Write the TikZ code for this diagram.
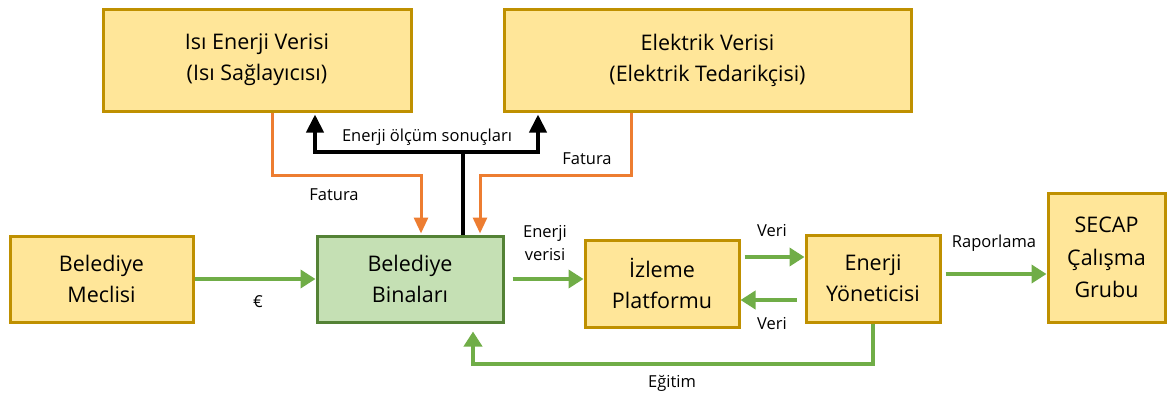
\documentclass[tikz,border=0pt]{standalone}
\usepackage{fontspec}
\setmainfont{Open Sans}
\usetikzlibrary{arrows.meta}
\definecolor{boxfill}{HTML}{FFE699}
\definecolor{boxline}{HTML}{BF9000}
\definecolor{binafill}{HTML}{C5E0B4}
\definecolor{binaline}{HTML}{548235}
\definecolor{grn}{HTML}{70AD47}
\definecolor{org}{HTML}{ED7D31}
\begin{document}
\begin{tikzpicture}[x=1pt,y=-1pt]
\tikzstyle{every box}=[draw=boxline,fill=boxfill,line width=3pt,align=center,font=\fontsize{21.5}{31}\selectfont]
\tikzstyle{box}=[every box]
\tikzstyle{binabox}=[every box,draw=binaline,fill=binafill]
\tikzstyle{lbl}=[font=\fontsize{16.5}{23}\selectfont,align=center]
\tikzstyle{greenarrow}=[draw=grn,line width=4pt,-{Triangle[length=15pt,width=18pt]},color=grn]
\tikzstyle{orangearrow}=[draw=org,line width=3pt,-{Triangle[length=16pt,width=14pt]},color=org]
\tikzstyle{blackarrow}=[draw=black,line width=4pt,-{Triangle[length=18pt,width=17pt]}]
\useasboundingbox (0,0) rectangle (1167,394);
% boxes
\node[box,minimum width=308pt,minimum height=102pt] (isi) at (257,60) {Isı Enerji Verisi\\(Isı Sağlayıcısı)};
\node[box,minimum width=407pt,minimum height=102pt] (elek) at (707.5,60) {Elektrik Verisi\\(Elektrik Tedarikçisi)};
\node[box,minimum width=183pt,minimum height=86pt] (meclis) at (101.5,279) {Belediye\\Meclisi};
\node[binabox,minimum width=186pt,minimum height=86pt] (bina) at (410,279) {Belediye\\Binaları};
\node[box,minimum width=154pt,minimum height=87pt] (izleme) at (662,283.5) {İzleme\\Platformu};
\node[box,minimum width=134pt,minimum height=87pt] (yonetici) at (873,278.5) {Enerji\\Yöneticisi};
\node[box,minimum width=117pt,minimum height=129pt,font=\fontsize{21.5}{32.5}\selectfont] (secap) at (1106.5,257.5) {SECAP\\Çalışma\\Grubu};
% measurement results
\coordinate (split) at (463,152);
\draw[line width=4pt] ([xshift=53pt]bina.north) -- (split);
\draw[blackarrow] (split) -| ([xshift=58pt,yshift=-2pt]isi.south);
\draw[blackarrow] (split) -| ([xshift=-169.5pt,yshift=-2pt]elek.south);
\node[lbl] (olcum) at (427,137) {Enerji ölçüm sonuçları};
% invoices
\draw[orangearrow] ([xshift=15pt]isi.south) -- ++(0,63) -| ([xshift=11pt,yshift=1pt]bina.north);
\draw[orangearrow] ([xshift=-76.5pt]elek.south) -- ++(0,63) -| ([xshift=70pt,yshift=1pt]bina.north);
\node[lbl] (fatura1) at (334,195) {Fatura};
\node[lbl] (fatura2) at (587,159) {Fatura};
% data flow
\draw[greenarrow] (meclis.east) -- (bina.west);
\node[lbl] (euro) at (258,302) {€};
\draw[greenarrow] ([xshift=8pt]bina.east) -- (izleme.west |- bina.east);
\node[lbl] (enverisi) at (545,243) {Enerji\\verisi};
\draw[greenarrow] ([xshift=4pt]izleme.east |- 0,257) -- (yonetici.west |- 0,257);
\node[lbl] (veri1) at (772,231) {Veri};
\draw[greenarrow] ([xshift=-8pt]yonetici.west |- 0,300) -- (izleme.east |- 0,300);
\node[lbl] (veri2) at (772,324) {Veri};
\draw[greenarrow] ([xshift=4pt]yonetici.east |- 0,274) -- (secap.west |- 0,274);
\node[lbl] (rapor) at (994,243) {Raporlama};
\draw[greenarrow] (yonetici.south) -- ++(0,40) -| ([shift={(63,8)}]bina.south);
\node[lbl] (egitim) at (672,383) {Eğitim};
\end{tikzpicture}
\end{document}
